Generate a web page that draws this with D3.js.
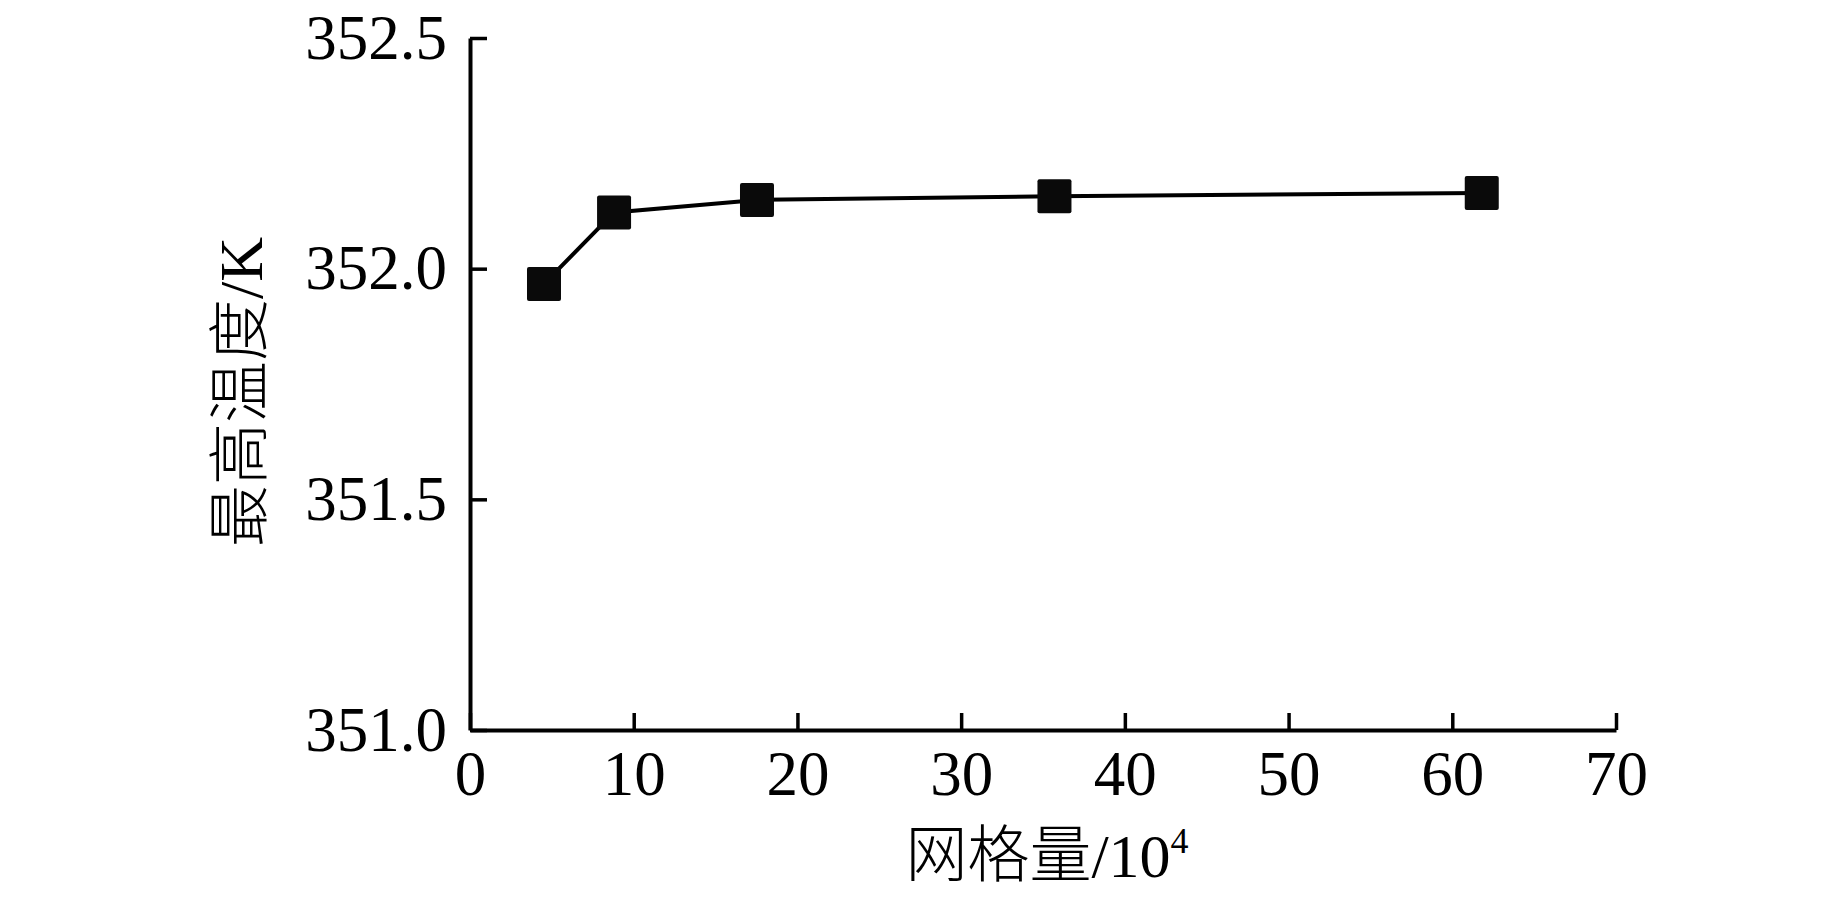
<!DOCTYPE html>
<html>
<head>
<meta charset="utf-8">
<script src="https://cdn.jsdelivr.net/npm/d3@7"></script>
<style>
  html, body { margin: 0; padding: 0; background: #fff; }
  svg { display: block; }
</style>
</head>
<body>
<svg id="chart" width="1843" height="901"></svg>
<script>
// ---- data ----
const meshCounts = [4.52, 8.8, 17.53, 35.7, 61.8];            // 网格量 / 10^4
const maxTemps   = [351.967, 352.122, 352.149, 352.157, 352.164]; // 最高温度 / K
const xTicks = [0, 10, 20, 30, 40, 50, 60, 70];
const yTicks = [351.0, 351.5, 352.0, 352.5];
const xLabel = "网格量/10";
const xLabelSup = "4";
const yLabel = "最高温度/K";

// ---- layout ----
const W = 1843, H = 901;
const margin = { left: 470, top: 38, right: 227, bottom: 171 };
const iw = W - margin.left - margin.right;
const ih = H - margin.top - margin.bottom;
const numFont = "'Liberation Serif', 'Times New Roman', serif";
const mixFont = "'Liberation Serif', 'Noto Sans CJK SC', serif";

const svg = d3.select("#chart");
const g = svg.append("g").attr("transform", `translate(${margin.left},${margin.top})`);

const x = d3.scaleLinear().domain([0, 70]).range([0, iw]);
const y = d3.scaleLinear().domain([351.0, 352.5]).range([ih, 0]);

// x axis
const xAxis = g.append("g")
  .attr("transform", `translate(0,${ih})`)
  .call(d3.axisBottom(x).tickValues(xTicks).tickFormat(d3.format("d"))
        .tickSizeInner(-17).tickSizeOuter(0).tickPadding(20));
// y axis
const yAxis = g.append("g")
  .call(d3.axisLeft(y).tickValues(yTicks).tickFormat(d3.format(".1f"))
        .tickSizeInner(-17).tickSizeOuter(0).tickPadding(23));

[xAxis, yAxis].forEach(a => {
  a.select(".domain").attr("stroke", "#000").attr("stroke-width", 4);
  a.selectAll(".tick line").attr("stroke", "#000").attr("stroke-width", 3.5);
  a.selectAll(".tick text")
    .attr("font-family", numFont)
    .attr("font-size", 63)
    .attr("fill", "#000");
});

// line
const line = d3.line().x((d, i) => x(meshCounts[i])).y(d => y(d));
g.append("path")
  .datum(maxTemps)
  .attr("d", line)
  .attr("fill", "none")
  .attr("stroke", "#000")
  .attr("stroke-width", 4);

// square markers
const sz = 34;
g.selectAll("rect.pt")
  .data(maxTemps)
  .join("rect")
  .attr("class", "pt")
  .attr("x", (d, i) => x(meshCounts[i]) - sz / 2)
  .attr("y", d => y(d) - sz / 2)
  .attr("width", sz)
  .attr("height", sz)
  .attr("rx", 2)
  .attr("fill", "#0a0a0a");

// axis titles
const xt = svg.append("text")
  .attr("x", margin.left + iw / 2 + 4)
  .attr("y", 877)
  .attr("text-anchor", "middle")
  .attr("font-family", mixFont)
  .attr("font-weight", 300)
  .attr("font-size", 62)
  .attr("fill", "#000");
xt.append("tspan").text(xLabel);
xt.append("tspan").attr("font-size", 36).attr("dy", -24).text(xLabelSup);

svg.append("text")
  .attr("transform", `translate(262,${margin.top + ih / 2 + 8}) rotate(-90)`)
  .attr("text-anchor", "middle")
  .attr("font-family", mixFont)
  .attr("font-weight", 300)
  .attr("font-size", 62)
  .attr("fill", "#000")
  .text(yLabel);
</script>
</body>
</html>
